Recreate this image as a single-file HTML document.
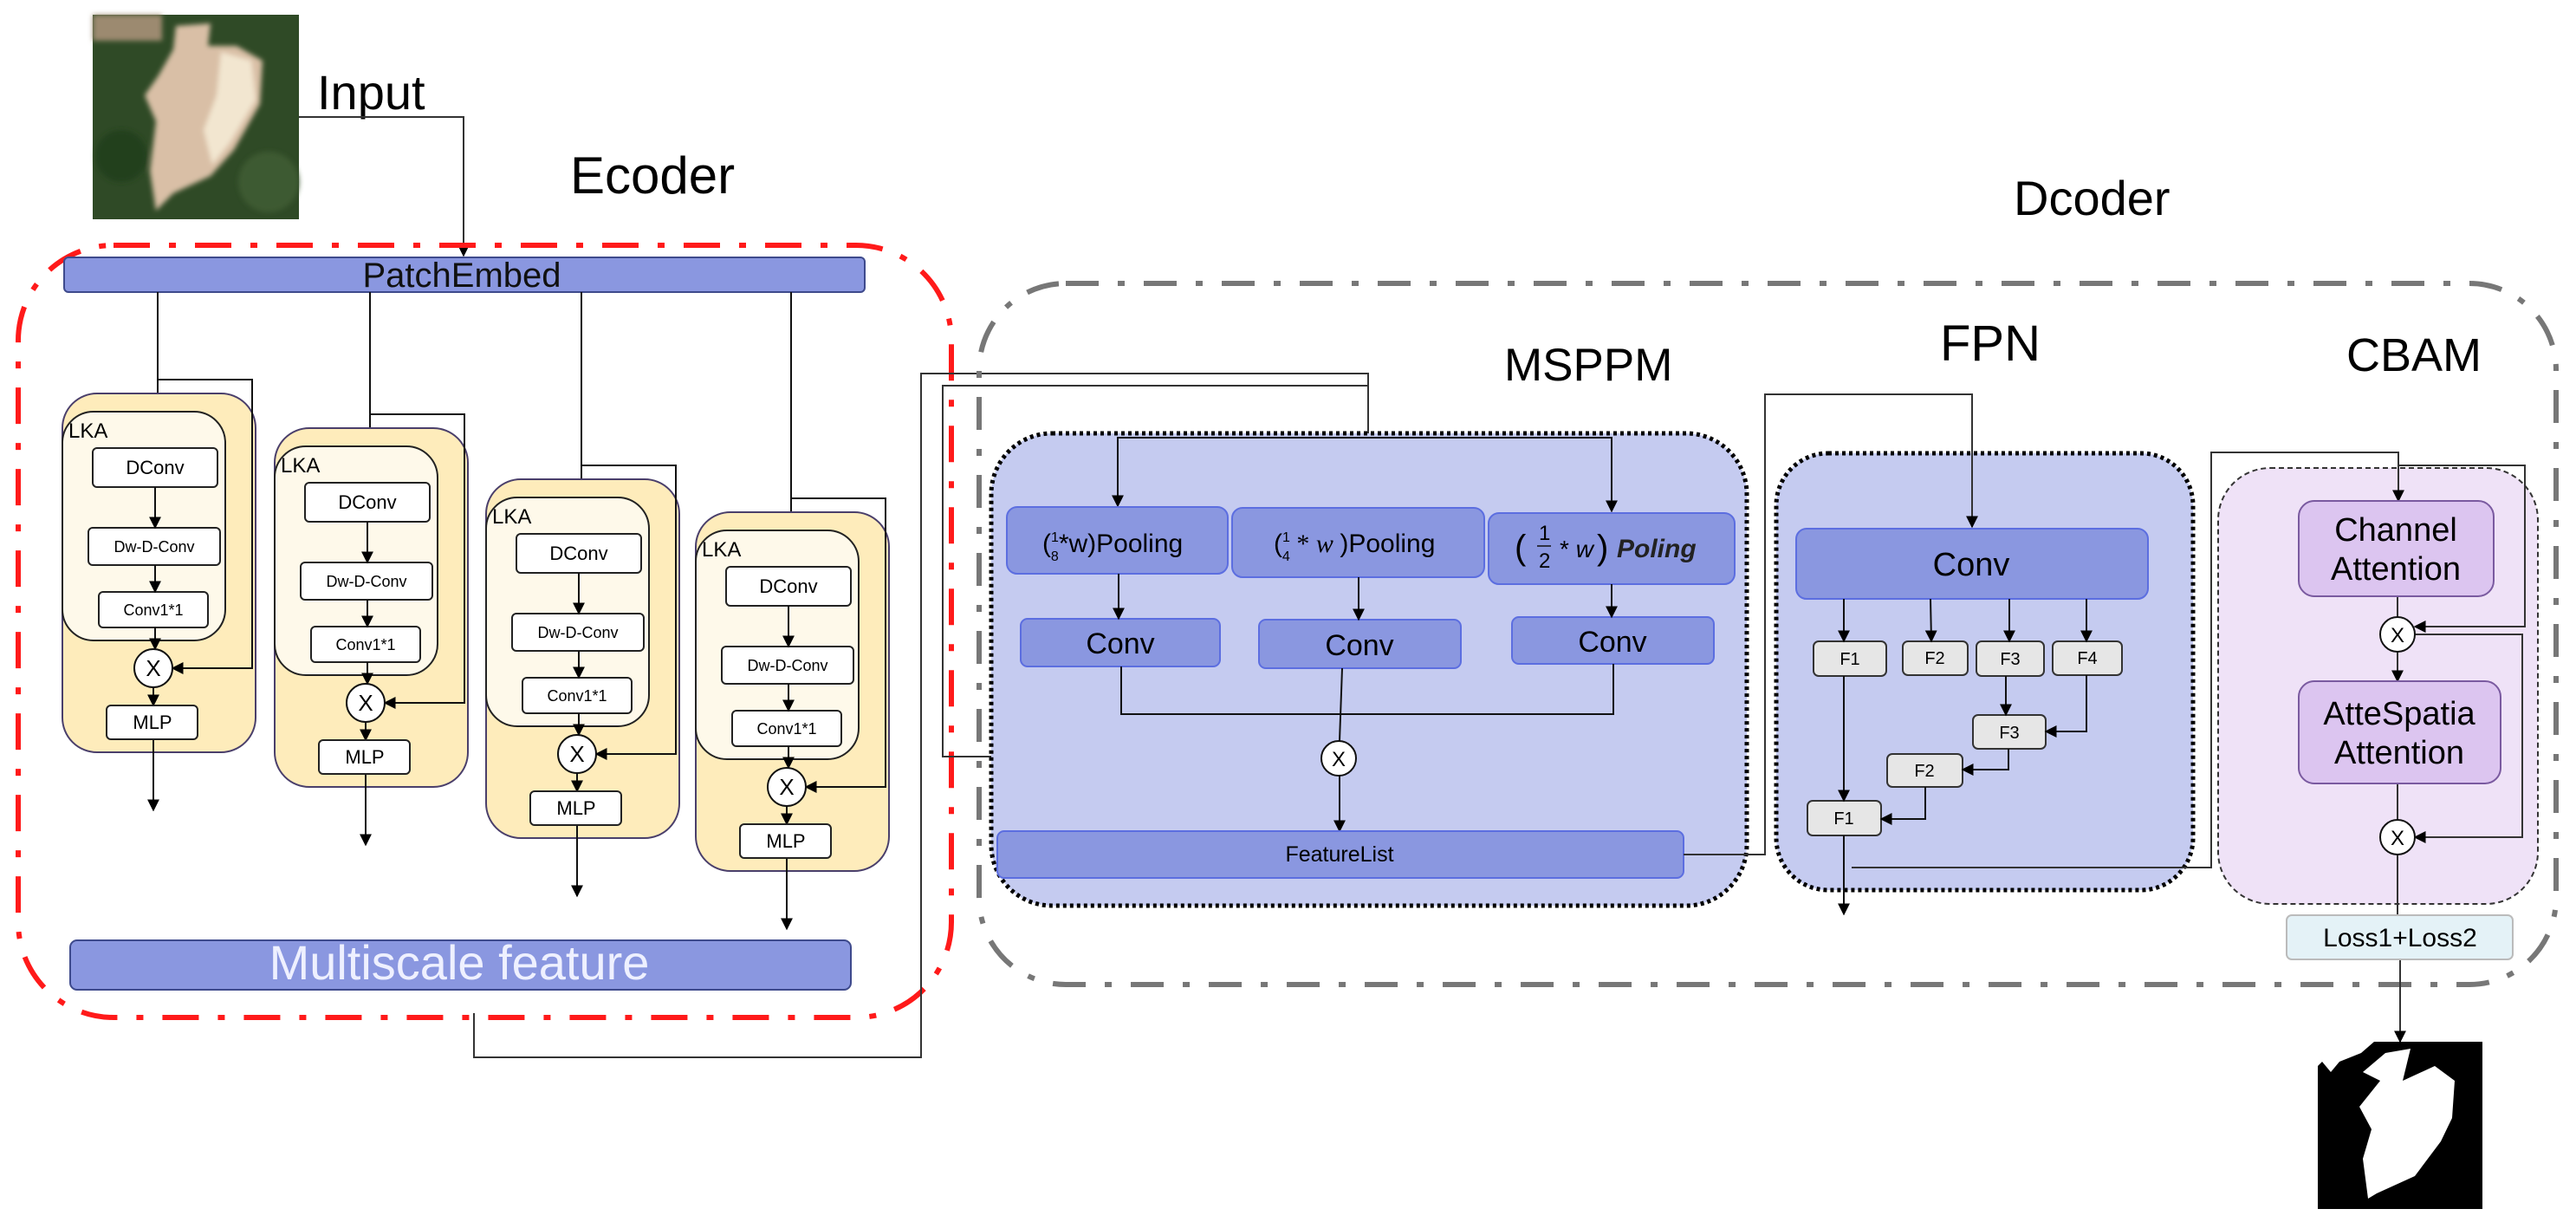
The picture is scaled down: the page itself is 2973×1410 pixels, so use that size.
<!DOCTYPE html>
<html><head><meta charset="utf-8"><style>
html,body{margin:0;padding:0;background:#fff;}
svg{display:block;}
text{font-family:"Liberation Sans",Arial,sans-serif;}
</style></head><body>
<svg width="2973" height="1410" viewBox="0 0 2973 1410" xmlns="http://www.w3.org/2000/svg">
<defs>
<marker id="ar" viewBox="0 0 10 10" refX="9" refY="5" markerWidth="14" markerHeight="14" markerUnits="userSpaceOnUse" orient="auto"><path d="M0,0 L10,5 L0,10 z" fill="#000"/></marker>
<filter id="bl"><feGaussianBlur stdDeviation="3"/></filter>
</defs>
<rect width="2973" height="1410" fill="#fff"/>

<!-- Input image -->
<rect x="107" y="17" width="238" height="236" fill="#2f4a26"/>
<g filter="url(#bl)">
<rect x="107" y="17" width="80" height="30" fill="#9c8a70"/>
<circle cx="140" cy="180" r="30" fill="#24401d"/>
<circle cx="310" cy="210" r="35" fill="#3c5a30"/>
<polygon points="203,30 243,27 240,53 273,53 303,70 300,120 270,173 243,203 200,223 180,243 173,197 180,140 167,110 183,87 200,57" fill="#d9bfa6"/>
<polygon points="255,60 290,70 295,115 265,165 245,190 235,150 250,110" fill="#f2e6d0"/>
</g>

<text x="366" y="126" font-size="56">Input</text>
<polyline points="345,135 535,135 535,295" fill="none" stroke="#333" stroke-width="2" marker-end="url(#ar)"/>
<text x="658" y="223" font-size="60">Ecoder</text>

<!-- red dash-dot -->
<rect x="21" y="283" width="1077" height="891" rx="110" fill="none" stroke="#ff1a1a" stroke-width="6" stroke-dasharray="42 22 8 22"/>

<!-- PatchEmbed -->
<rect x="74" y="297" width="924" height="40" rx="5" fill="#8a97e0" stroke="#3e4a8c" stroke-width="2"/>
<text x="533" y="331" font-size="40" text-anchor="middle" fill="#111">PatchEmbed</text>

<!-- vertical inputs -->
<g stroke="#111" stroke-width="2" fill="none">
<line x1="182" y1="337" x2="182" y2="517" marker-end="url(#ar)"/>
<line x1="427" y1="337" x2="427" y2="495"/>
<line x1="671" y1="337" x2="671" y2="554"/>
<line x1="913" y1="337" x2="913" y2="592"/>
</g>

<!-- block template -->
<g id="b1">
<rect x="72" y="454" width="223" height="414" rx="40" fill="#feecbb" stroke="#4a3f6b" stroke-width="2"/>
<rect x="72" y="475" width="188" height="264" rx="36" fill="#fef9ea" stroke="#222" stroke-width="2"/>
<text x="79" y="505" font-size="24">LKA</text>
<rect x="107" y="517" width="144" height="45" rx="5" fill="#fff" stroke="#222" stroke-width="2"/>
<text x="179" y="547" font-size="22" text-anchor="middle">DConv</text>
<rect x="102" y="609" width="152" height="43" rx="5" fill="#fff" stroke="#222" stroke-width="2"/>
<text x="178" y="637" font-size="18" text-anchor="middle">Dw-D-Conv</text>
<rect x="114" y="683" width="126" height="41" rx="5" fill="#fff" stroke="#222" stroke-width="2"/>
<text x="177" y="710" font-size="18" text-anchor="middle">Conv1*1</text>
<g stroke="#111" stroke-width="2" fill="none">
<line x1="179" y1="562" x2="179" y2="609" marker-end="url(#ar)"/>
<line x1="179" y1="652" x2="179" y2="683" marker-end="url(#ar)"/>
<line x1="179" y1="724" x2="179" y2="749" marker-end="url(#ar)"/>
<line x1="177" y1="793" x2="177" y2="814" marker-end="url(#ar)"/>
<line x1="177" y1="853" x2="177" y2="935" marker-end="url(#ar)"/>
<polyline points="182,438 291,438 291,771 199,771" marker-end="url(#ar)"/>
</g>
<circle cx="177" cy="771" r="22" fill="#fff" stroke="#111" stroke-width="2"/>
<text x="177" y="780" font-size="26" text-anchor="middle">X</text>
<rect x="123" y="814" width="105" height="39" rx="5" fill="#fff" stroke="#222" stroke-width="2"/>
<text x="176" y="841" font-size="22" text-anchor="middle">MLP</text>
</g>
<use href="#b1" transform="translate(245,40)"/>
<use href="#b1" transform="translate(489,99)"/>
<use href="#b1" transform="translate(731,137)"/>

<!-- Multiscale -->
<rect x="81" y="1085" width="901" height="57" rx="8" fill="#8a97e0" stroke="#3e4a8c" stroke-width="2"/>
<text x="530" y="1130" font-size="56" text-anchor="middle" fill="#eef0ff">Multiscale feature</text>

<!-- connectors encoder to MSPPM -->
<g stroke="#333" stroke-width="2" fill="none">
<polyline points="547,1169 547,1220 1063,1220 1063,431 1579,431 1579,583" marker-end="url(#ar)"/>
<polyline points="1579,445 1088,445 1088,873 1523,873" marker-end="url(#ar)"/>
</g>

<!-- gray dash-dot decoder -->
<rect x="1130" y="327" width="1820" height="809" rx="100" fill="none" stroke="#777" stroke-width="6" stroke-dasharray="38 22 8 22"/>
<text x="2324" y="248" font-size="56">Dcoder</text>

<!-- MSPPM -->
<text x="1736" y="439" font-size="53">MSPPM</text>
<rect x="1144" y="500" width="872" height="545" rx="70" fill="#c5cbf0" stroke="#000" stroke-width="5" stroke-dasharray="4 4"/>
<g stroke="#111" stroke-width="2" fill="none">
<polyline points="1290,583 1290,505 1860,505 1860,590" marker-end="url(#ar)"/>
<line x1="1290" y1="505" x2="1290" y2="584" marker-end="url(#ar)"/>
</g>
<g fill="#8a97e0" stroke="#5c6ee0" stroke-width="2">
<rect x="1162" y="585" width="255" height="77" rx="12"/>
<rect x="1422" y="586" width="291" height="80" rx="12"/>
<rect x="1718" y="592" width="284" height="82" rx="12"/>
<rect x="1178" y="714" width="230" height="55" rx="8"/>
<rect x="1453" y="715" width="233" height="56" rx="8"/>
<rect x="1745" y="712" width="233" height="54" rx="8"/>
</g>
<text x="1203" y="637" font-size="30">(<tspan font-size="16" dy="-12">1</tspan><tspan font-size="16" dx="-9" dy="22">8</tspan><tspan dy="-10">*w)Pooling</tspan></text>
<text x="1470" y="637" font-size="30">(<tspan font-size="16" dy="-12">1</tspan><tspan font-size="16" dx="-9" dy="22">4</tspan><tspan dy="-10" font-family="Liberation Serif"> * <tspan font-style="italic">w</tspan> </tspan><tspan>)Pooling</tspan></text>
<text x="1748" y="645" font-size="40" font-family="Liberation Serif">(</text>
<text x="1776" y="623" font-size="24" font-family="Liberation Serif">1</text>
<line x1="1774" y1="630" x2="1790" y2="630" stroke="#111" stroke-width="1.5"/>
<text x="1776" y="655" font-size="24" font-family="Liberation Serif">2</text>
<text x="1800" y="643" font-size="28" font-family="Liberation Serif">* <tspan font-style="italic">w</tspan></text>
<text x="1843" y="645" font-size="40" font-family="Liberation Serif">)</text>
<text x="1866" y="643" font-size="30" font-family="Liberation Serif" font-style="italic" font-weight="bold" fill="#222">Poling</text>
<g stroke="#111" stroke-width="2" fill="none">
<line x1="1291" y1="662" x2="1291" y2="714" marker-end="url(#ar)"/>
<line x1="1568" y1="666" x2="1568" y2="715" marker-end="url(#ar)"/>
<line x1="1860" y1="674" x2="1860" y2="712" marker-end="url(#ar)"/>
<polyline points="1294,769 1294,824 1862,824 1862,766"/>
<line x1="1549" y1="771" x2="1546" y2="855"/>
<line x1="1546" y1="895" x2="1546" y2="959" marker-end="url(#ar)"/>
</g>
<text x="1293" y="754" font-size="34" text-anchor="middle">Conv</text>
<text x="1569" y="756" font-size="34" text-anchor="middle">Conv</text>
<text x="1861" y="752" font-size="34" text-anchor="middle">Conv</text>
<circle cx="1545" cy="875" r="20" fill="#fff" stroke="#111" stroke-width="2"/>
<text x="1545" y="884" font-size="24" text-anchor="middle">X</text>
<rect x="1151" y="959" width="792" height="54" rx="8" fill="#8a97e0" stroke="#5c6ee0" stroke-width="2"/>
<text x="1546" y="994" font-size="25" text-anchor="middle">FeatureList</text>
<polyline points="1943,986 2037,986 2037,455 2276,455 2276,608" fill="none" stroke="#333" stroke-width="2" marker-end="url(#ar)"/>

<!-- FPN -->
<text x="2239" y="416" font-size="58">FPN</text>
<rect x="2050" y="523" width="481" height="504" rx="60" fill="#c5cbf0" stroke="#000" stroke-width="5" stroke-dasharray="4 4"/>
<line x1="2276" y1="455" x2="2276" y2="608" stroke="#333" stroke-width="2" marker-end="url(#ar)"/>
<rect x="2073" y="610" width="406" height="81" rx="12" fill="#8a97e0" stroke="#5c6ee0" stroke-width="2"/>
<text x="2275" y="664" font-size="38" text-anchor="middle">Conv</text>
<g fill="#e6e6e6" stroke="#333" stroke-width="2">
<rect x="2093" y="740" width="84" height="40" rx="6"/>
<rect x="2196" y="740" width="75" height="39" rx="6"/>
<rect x="2281" y="740" width="78" height="40" rx="6"/>
<rect x="2369" y="740" width="80" height="39" rx="6"/>
<rect x="2277" y="825" width="84" height="39" rx="6"/>
<rect x="2178" y="870" width="87" height="38" rx="6"/>
<rect x="2086" y="924" width="85" height="40" rx="6"/>
</g>
<g font-size="20" text-anchor="middle">
<text x="2135" y="767">F1</text><text x="2233" y="766">F2</text><text x="2320" y="767">F3</text><text x="2409" y="766">F4</text>
<text x="2319" y="852">F3</text><text x="2221" y="896">F2</text><text x="2128" y="951">F1</text>
</g>
<g stroke="#111" stroke-width="2" fill="none">
<line x1="2128" y1="691" x2="2128" y2="740" marker-end="url(#ar)"/>
<line x1="2228" y1="691" x2="2229" y2="740" marker-end="url(#ar)"/>
<line x1="2319" y1="691" x2="2319" y2="740" marker-end="url(#ar)"/>
<line x1="2408" y1="691" x2="2408" y2="740" marker-end="url(#ar)"/>
<line x1="2315" y1="780" x2="2315" y2="825" marker-end="url(#ar)"/>
<polyline points="2408,779 2408,844 2361,844" marker-end="url(#ar)"/>
<polyline points="2318,864 2318,888 2265,888" marker-end="url(#ar)"/>
<polyline points="2222,908 2222,945 2171,945" marker-end="url(#ar)"/>
<line x1="2128" y1="780" x2="2128" y2="924" marker-end="url(#ar)"/>
<line x1="2128" y1="964" x2="2128" y2="1055" marker-end="url(#ar)"/>
</g>

<!-- CBAM -->
<text x="2708" y="428" font-size="54">CBAM</text>
<rect x="2560" y="540" width="369" height="503" rx="60" fill="#efe2f7" stroke="#333" stroke-width="2" stroke-dasharray="6 4"/>
<g stroke="#333" stroke-width="2" fill="none">
<polyline points="2137,1001 2552,1001 2552,522 2768,522 2768,578" marker-end="url(#ar)"/>
<polyline points="2768,537 2914,537 2914,723 2787,723" marker-end="url(#ar)"/>
<polyline points="2767,732 2911,732 2911,966 2787,966" marker-end="url(#ar)"/>
<line x1="2767" y1="688" x2="2767" y2="712"/>
<line x1="2767" y1="752" x2="2767" y2="786" marker-end="url(#ar)"/>
<line x1="2767" y1="904" x2="2767" y2="946"/>
<line x1="2767" y1="986" x2="2767" y2="1056"/>
<line x1="2770" y1="1107" x2="2770" y2="1202" marker-end="url(#ar)"/>
</g>
<rect x="2653" y="578" width="225" height="110" rx="18" fill="#dcc5f0" stroke="#7a5aa0" stroke-width="2"/>
<text x="2765" y="624" font-size="38" text-anchor="middle">Channel</text>
<text x="2765" y="669" font-size="38" text-anchor="middle">Attention</text>
<circle cx="2767" cy="732" r="20" fill="#fff" stroke="#111" stroke-width="2"/>
<text x="2767" y="741" font-size="24" text-anchor="middle">X</text>
<rect x="2653" y="786" width="233" height="118" rx="18" fill="#dcc5f0" stroke="#7a5aa0" stroke-width="2"/>
<text x="2769" y="836" font-size="38" text-anchor="middle">AtteSpatia</text>
<text x="2769" y="881" font-size="38" text-anchor="middle">Attention</text>
<circle cx="2767" cy="966" r="20" fill="#fff" stroke="#111" stroke-width="2"/>
<text x="2767" y="975" font-size="24" text-anchor="middle">X</text>
<rect x="2639" y="1056" width="261" height="51" rx="6" fill="#e4f2f7" stroke="#bbb" stroke-width="2"/>
<text x="2770" y="1092" font-size="30" text-anchor="middle">Loss1+Loss2</text>

<!-- mask -->
<rect x="2675" y="1202" width="190" height="193" fill="#000"/>
<polygon points="2675,1202 2740,1202 2725,1215 2700,1225 2690,1237 2680,1225 2675,1230" fill="#fff"/>
<polygon points="2753,1215 2782,1210 2773,1247 2810,1230 2833,1247 2830,1290 2817,1317 2787,1357 2743,1377 2733,1383 2727,1337 2737,1303 2723,1277 2747,1247 2727,1237" fill="#fff"/>
</svg>
</body></html>
